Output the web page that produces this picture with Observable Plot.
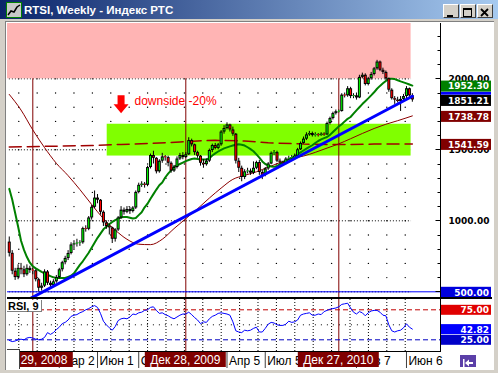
<!DOCTYPE html>
<html><head><meta charset="utf-8">
<script src="https://cdn.jsdelivr.net/npm/d3@7"></script>
<script src="https://cdn.jsdelivr.net/npm/@observablehq/plot@0.6"></script>
<style>
html,body{margin:0;padding:0}
body{width:498px;height:373px;background:#d4d0c8;position:relative;overflow:hidden;font-family:"Liberation Sans",Arial,sans-serif}
.abs{position:absolute}
#titlebar{left:0;top:0;width:498px;height:19px;background:linear-gradient(to right,#0a246a,#a6caf0)}
#title{left:24px;top:2px;color:#fff;font-weight:bold;font-size:11.5px;line-height:16px;white-space:nowrap}
.btn{top:4px;width:14px;height:12px;background:#d4d0c8;border-top:1px solid #fff;border-left:1px solid #fff;border-right:1px solid #404040;border-bottom:1px solid #404040}
#content{left:5px;top:21px;width:488px;height:348px;border-top:1px solid #808080;border-left:1px solid #808080;background:#fff}
#rsilabel{left:7px;top:300px;width:33px;height:11px;background:#fff;border-right:1px solid #808080;border-bottom:1px solid #808080;font-weight:bold;font-size:11px;line-height:12px;padding-left:1px;white-space:nowrap}
#corner{left:7px;top:349px;width:12px;height:19px;background:#fff;border:1px solid #404040;border-bottom:none;border-left:none}
#navbtn{left:460px;top:355px;width:16px;height:12px;background:#5b3fa8}
</style>
</head><body>
<div id="content" class="abs"></div>
<div id="titlebar" class="abs"></div>
<svg class="abs" style="left:6px;top:2px" width="16" height="16"><rect x="0.5" y="0.5" width="15" height="15" fill="#c8c8c8" stroke="#008000"/><polyline points="2,13 5,9 8,10 11,5 14,3" fill="none" stroke="#000" stroke-width="1.5"/></svg>
<div id="title" class="abs">RTSI, Weekly - Индекс РТС</div>
<div class="abs btn" style="left:443px"><svg width="14" height="12"><rect x="3" y="8" width="6" height="2" fill="#000"/></svg></div>
<div class="abs btn" style="left:460px"><svg width="14" height="12"><rect x="2.5" y="1.5" width="8" height="8" fill="none" stroke="#000"/><rect x="2" y="1" width="9" height="2" fill="#000"/></svg></div>
<div class="abs btn" style="left:477px"><svg width="14" height="12"><path d="M3,2 L10,9 M10,2 L3,9" stroke="#000" stroke-width="1.8"/></svg></div>
<script>
// ---------- data ----------
const firstWeek = "2008-11-03"; // weekly candles, one per week from here
const opens = [850,771,645,600,665,655,620,665,
650,648,585,525,540,640,560,545,570,600,
655,705,735,770,830,838,842,845,945,940,
1020,1095,1160,1145,1060,985,960,950,870,935,
1020,1075,1060,1080,1065,1090,1200,1250,1258,1250,
1375,1460,1440,1345,1420,1450,1445,1405,1350,1375,
1435,1460,1445,1465,1565,1535,1480,1455,1405,1395,
1420,1495,1530,1510,1535,1625,1650,1675,1640,1610,
1420,1370,1305,1345,1350,1335,1370,1410,1340,1320,
1365,1400,1475,1480,1420,1410,1400,1435,1440,1445,
1455,1500,1545,1575,1605,1615,1600,1605,1600,1610,
1605,1685,1720,1755,1768,1770,1885,1880,1930,1875,
1880,1865,2010,2025,1960,2000,2030,2070,2118,2060,
2045,2000,1920,1860,1850,1840,1855,1875,1930,1880];
const highs = [886,790,665,690,700,680,690,680,
665,655,595,560,655,650,575,585,615,665,
715,750,790,845,860,870,860,955,965,1030,
1110,1210,1185,1150,1070,1000,975,955,945,1030,
1100,1090,1100,1095,1100,1210,1265,1275,1270,1385,
1470,1490,1445,1430,1475,1460,1455,1415,1390,1450,
1475,1480,1480,1585,1575,1540,1490,1460,1430,1435,
1505,1540,1545,1545,1635,1670,1690,1680,1660,1615,
1440,1385,1360,1370,1365,1415,1420,1425,1355,1375,
1410,1485,1495,1490,1435,1420,1445,1455,1460,1470,
1510,1555,1590,1620,1630,1625,1620,1615,1620,1620,
1695,1730,1765,1780,1780,1895,1900,1945,1940,1895,
1900,2025,2040,2035,2010,2045,2080,2130,2125,2075,
2055,2005,1930,1875,1870,1875,1890,1945,1935,1895];
const lows = [745,620,580,585,620,600,610,630,
620,570,500,505,530,545,530,535,560,590,
640,690,720,760,800,815,820,835,920,930,
1005,1085,1120,1040,960,940,900,840,850,925,
1010,1040,1050,1045,1055,1080,1190,1235,1230,1240,
1365,1400,1330,1335,1405,1420,1380,1335,1340,1365,
1425,1430,1440,1460,1520,1460,1440,1385,1370,1385,
1410,1480,1500,1500,1525,1610,1640,1625,1595,1400,
1340,1275,1290,1330,1320,1325,1360,1320,1290,1310,
1355,1395,1460,1410,1395,1385,1395,1425,1430,1440,
1450,1495,1540,1565,1595,1590,1590,1590,1595,1595,
1600,1675,1710,1745,1760,1765,1865,1870,1860,1860,
1850,1860,2000,1950,1950,1990,2020,2060,2050,2030,
1990,1905,1850,1820,1830,1770,1840,1860,1870,1835];
const closes = [771,645,600,665,655,620,665,650,
648,585,525,540,640,560,545,570,600,655,
705,735,770,830,838,842,845,945,940,1020,
1095,1160,1145,1060,985,960,950,870,935,1020,
1075,1060,1080,1065,1090,1200,1250,1258,1250,1375,
1460,1440,1345,1420,1450,1445,1405,1350,1375,1435,
1460,1445,1465,1565,1535,1480,1455,1405,1395,1420,
1495,1530,1510,1535,1625,1650,1675,1640,1610,1420,
1370,1305,1345,1350,1335,1370,1410,1340,1320,1365,
1400,1475,1480,1420,1410,1400,1435,1440,1445,1455,
1500,1545,1575,1605,1615,1600,1605,1600,1610,1605,
1685,1720,1755,1768,1770,1885,1880,1930,1875,1880,
1865,2010,2025,1960,2000,2030,2070,2118,2060,2045,
2000,1920,1860,1850,1840,1855,1875,1930,1880,1851.21];
const greenMa = [1225,1150,1055,960,860,795,745,705,
680,665,652,640,630,620,610,602,598,597,
597,597,605,613,630,660,690,715,745,775,
810,845,880,910,940,958,975,992,1005,1015,
1025,1027,1027,1022,1016,1020,1040,1060,1095,1120,
1155,1188,1220,1250,1270,1305,1332,1355,1379,1390,
1400,1410,1420,1428,1435,1438,1435,1431,1431,1432,
1440,1460,1475,1488,1500,1510,1517,1524,1530,1536,
1539,1536,1530,1518,1505,1490,1468,1445,1418,1400,
1390,1382,1380,1386,1398,1412,1422,1432,1442,1455,
1468,1482,1495,1508,1520,1532,1548,1562,1573,1582,
1590,1605,1625,1645,1665,1680,1700,1718,1731,1755,
1778,1800,1822,1842,1862,1883,1905,1930,1950,1968,
1985,2000,2001,1998,1990,1982,1975,1968,1960,1952.3];
const rsiValues = [24,22,23,25,26,25,28,29,
28,26,25,26,29,37,34,37,42,46,
52,54,58,64,66,67,70,72,75,77,
80,82,79,69,56,50,45,41,47,57,
60,61,60,63,68,67,70,71,74,75,
79,80,74,69,70,67,65,62,60,63,
66,68,68,71,67,62,58,52,55,54,
60,64,66,69,70,69,68,66,55,40,
38,37,41,40,41,44,46,38,38,44,
51,54,53,50,49,49,51,56,54,55,
58,66,68,69,70,66,66,68,67,72,
74,76,77,78,80,84,85,86,78,71,
68,72,70,65,70,73,74,74,71,66,
65,50,40,38,40,41,45,51.7,46,42.82];
const longMaWeek = [0,4,8,12,16,20,24,28,32,36,40,44,48,52,56,60,64,68,72,76,80,84,88,92,96,100,104,108,112,116,120,124,128,132,137];
const longMaValue = [1890,1780,1640,1515,1405,1318,1220,1115,1015,935,870,835,832,870,945,1015,1085,1160,1230,1292,1320,1345,1378,1410,1438,1456,1482,1512,1542,1578,1615,1650,1680,1705,1738.78];
const dashWeek = [0,28,38,48,58,64,70,80,88,100,112,124,137];
const dashValue = [1520,1530,1538,1545,1555,1562,1567,1562,1550,1540,1537,1540,1541.59];
const trendWeek = [7,137];
const trendValue = [451,1877];
const markerDates = ["2008-12-29","2009-12-28","2010-12-27"];
const markerLabels = ["Дек 29, 2008","Дек 28, 2009","Дек 27, 2010"];
const tickDates = ["2009-03-02","2009-06-01","2009-09-07","2010-04-05","2010-07-05","2011-02-07","2011-06-06"];
const tickLabels = ["Мар 2","Июн 1","Сен 7","Апр 5","Июл 5","Фев 7","Июн 6"];
const priceLabels = [500,1000,1500,2000];
const tagValues = [1952.30,1851.21,1738.78,1541.59,500];
const tagTexts = ["1952.30","1851.21","1738.78","1541.59","500.00"];
const tagColors = ["#008000","#000000","#800000","#800000","#0000dd"];
const trendTagValue = 1895;
const redZone = {start:"2008-10-20", end:"2011-06-17", low:2000, high:2600};
const greenZone = {start:"2009-06-24", end:"2011-06-17", low:1456, high:1680};
const rsiTagValues = [75,42.82,25];
const rsiTagTexts = ["75.00","42.82","25.00"];
const rsiTagColors = ["#e00000","#0000ff","#0000c8"];
const annotation = {date:"2009-08-28", value:1840, text:"downside -20%"};
const arrowAt = {date:"2009-07-27", value:1820};

// ---------- helpers ----------
const D = s => new Date(s + "T00:00:00Z");
const DAY = 864e5;
const weekDate = i => new Date(+D(firstWeek) + i * 7 * DAY);
const candles = closes.map((c, i) => ({date: weekDate(i), open: opens[i], high: highs[i], low: lows[i], close: c,
  top: Math.max(opens[i], c), bot: Math.min(opens[i], c)}));
const upC = candles.filter(d => d.close >= d.open), downC = candles.filter(d => d.close < d.open);
const greenPts = greenMa.map((v, i) => ({date: weekDate(i), v}));
const rsiPts = rsiValues.map((v, i) => ({date: weekDate(i), v}));
const longPts = longMaWeek.map((w, i) => ({date: weekDate(w), v: longMaValue[i]}));
const dashPts = dashWeek.map((w, i) => ({date: weekDate(w), v: dashValue[i]}));
const trendPts = trendWeek.map((w, i) => ({date: weekDate(w), v: trendValue[i]}));
const markers = markerDates.map(D);
const ticksX = tickDates.map(D);
const labelMap = new Map(ticksX.map((d, i) => [+d, tickLabels[i]]));
// dotted grid columns (regular spacing anchored at the last column)
const gridAnchor = D("2011-06-03"), gridStep = 43.78 * DAY;
const gridDates = d3.range(0, 22).map(n => new Date(+gridAnchor - n * gridStep));
const gridRows = d3.range(600, 2001, 100);
const gridPts = d3.cross(gridDates, gridRows);
const dottedStart = D("2008-10-20"), dottedEnd = D("2011-06-18");

const xScale = {type: "utc", domain: [D("2008-12-29"), D("2010-12-27")], range: [25.3, 331.3]};
const NS = "http://www.w3.org/2000/svg";
function el(tag, attrs, parent) {
  const e = document.createElementNS(NS, tag);
  for (const k in attrs) e.setAttribute(k, attrs[k]);
  if (parent) parent.appendChild(e);
  return e;
}
function tagsMark(values, texts, colors, h, dyc) {
  return (index, scales, channels, dims) => {
    const g = el("g", {});
    const x0 = dims.width - dims.marginRight + 1;
    values.forEach((v, i) => {
      const cy = scales.y(v) + dyc;
      el("rect", {x: x0, y: cy - h / 2, width: dims.width - x0 - 1, height: h, fill: colors[i]}, g);
      const t = el("text", {x: dims.width - 3, y: cy + 3.4, "text-anchor": "end", fill: "#fff",
        "font-family": "DejaVu Sans", "font-weight": "bold", "font-size": 9}, g);
      t.textContent = texts[i];
    });
    return g;
  };
}
const arrowSymbol = {draw(ctx) {
  ctx.moveTo(-3.5, -9); ctx.lineTo(3.5, -9); ctx.lineTo(3.5, 0); ctx.lineTo(7.5, 0);
  ctx.lineTo(0, 9); ctx.lineTo(-7.5, 0); ctx.lineTo(-3.5, 0); ctx.closePath();
}};

// ---------- main price panel ----------
const main = Plot.plot({
  width: 485, height: 274, marginLeft: 0, marginRight: 52, marginTop: 0, marginBottom: 0,
  x: {...xScale, axis: null},
  y: {domain: [500, 2000], range: [268.3, 55.3], label: null},
  style: {fontFamily: "Liberation Sans, sans-serif", background: "#fff", overflow: "hidden"},
  marks: [
    Plot.dot(gridPts, {x: d => d[0], y: d => d[1], r: 0.7, fill: "#000"}),
    Plot.ruleY(priceLabels, {x1: () => dottedStart, x2: () => dottedEnd, stroke: "#000", strokeDasharray: "1,2"}),
    Plot.rect([greenZone], {x1: d => D(d.start), x2: d => D(d.end), y1: "low", y2: "high", fill: "#80ff00"}),
    Plot.ruleX(markers, {stroke: "#800000"}),
    Plot.rect([redZone], {x1: d => D(d.start), x2: d => D(d.end), y1: "low", y2: "high", fill: "#ffb4b4"}),
    Plot.ruleY([500], {stroke: "#0000ff"}),
    Plot.line(dashPts, {x: "date", y: "v", stroke: "#a00000", strokeWidth: 1.5, strokeDasharray: "12,6"}),
    Plot.line(longPts, {x: "date", y: "v", stroke: "#8b0000", strokeWidth: 1, curve: "monotone-x"}),
    Plot.line(greenPts, {x: "date", y: "v", stroke: "#008000", strokeWidth: 2}),
    Plot.ruleX(candles, {x: "date", y1: "low", y2: "high", stroke: "#000"}),
    Plot.ruleX(candles, {x: "date", y1: "top", y2: "bot", stroke: "#000", strokeWidth: 3}),
    Plot.ruleX(upC, {x: "date", y1: "top", y2: "bot", stroke: "#00f000", strokeWidth: 1.2, insetTop: 1, insetBottom: 1}),
    Plot.ruleX(downC, {x: "date", y1: "top", y2: "bot", stroke: "#ff0000", strokeWidth: 1.2, insetTop: 1, insetBottom: 1}),
    Plot.line(trendPts, {x: "date", y: "v", stroke: "#0000ff", strokeWidth: 3}),
    Plot.dot([arrowAt], {x: d => D(d.date), y: "value", symbol: arrowSymbol, fill: "#ff0000", r: 5}),
    Plot.text([annotation], {x: d => D(d.date), y: "value", text: "text", fill: "#ff0000", fontSize: 12,
      fontFamily: "Liberation Sans", textAnchor: "start", lineAnchor: "middle"}),
    Plot.axisY({anchor: "right", ticks: priceLabels, tickFormat: d => d.toFixed(2), tickSize: 0, tickPadding: 0,
      dx: 49, textAnchor: "end", fontWeight: "bold", fontSize: 9, fontFamily: "DejaVu Sans", fill: "#000", label: null}),
    (index, scales, channels, dims) => {
      const g = el("g", {});
      const x = dims.width - dims.marginRight + 0.5;
      el("line", {x1: x, x2: x, y1: 0, y2: dims.height, stroke: "#000"}, g);
      for (const v of d3.range(500, 2301, 100)) {
        const y = Math.round(scales.y(v)) + 0.5;
        el("line", {x1: x - (v % 500 === 0 ? 5 : 3), x2: x, y1: y, y2: y, stroke: "#000"}, g);
      }
      const ty = scales.y(trendTagValue);
      el("rect", {x: x + 0.5, y: ty - 1.5, width: dims.width - x - 1.5, height: 3, fill: "#0000ff"}, g);
      return g;
    },
    tagsMark(tagValues, tagTexts, tagColors, 11, 1)
  ]
});

// ---------- RSI panel + date bar ----------
const rsi = Plot.plot({
  width: 485, height: 71, marginLeft: 0, marginRight: 52, marginTop: 2, marginBottom: 17,
  x: {...xScale},
  y: {domain: [25, 75], range: [42.3, 12.3], axis: null},
  style: {fontFamily: "Liberation Sans, sans-serif", background: "#fff", overflow: "hidden"},
  marks: [
    Plot.ruleX(gridDates, {stroke: "#000", strokeDasharray: "1,2"}),
    Plot.ruleY([50], {x1: () => dottedStart, x2: () => dottedEnd, stroke: "#000", strokeDasharray: "1,5"}),
    Plot.ruleX(markers, {stroke: "#800000"}),
    Plot.ruleY([75], {stroke: "#c00000", strokeDasharray: "5,3"}),
    Plot.ruleY([25], {stroke: "#0000c0", strokeDasharray: "5,3"}),
    Plot.line(rsiPts, {x: "date", y: "v", stroke: "#0000ff", strokeWidth: 1}),
    Plot.axisX({ticks: ticksX, tickFormat: () => "", tickSize: 17, stroke: "#404040", label: null}),
    Plot.axisX({ticks: ticksX, tickFormat: d => labelMap.get(+d), tickSize: 0, tickPadding: 0, dy: 4.5, dx: 2,
      textAnchor: "start", fontSize: 12, fontFamily: "Liberation Sans", fill: "#000", label: null}),
    (index, scales, channels, dims) => {
      const g = el("g", {});
      const right = dims.width - dims.marginRight;
      const bottom = dims.height - dims.marginBottom;
      el("rect", {x: 0, y: 0, width: dims.width, height: 2, fill: "#000"}, g);
      el("line", {x1: right + 0.5, x2: right + 0.5, y1: 2, y2: bottom + 1, stroke: "#000"}, g);
      el("line", {x1: 0, x2: right + 1, y1: bottom + 0.5, y2: bottom + 0.5, stroke: "#000"}, g);
      markers.forEach((d, i) => {
        const cx = scales.x(d);
        el("rect", {x: cx - 40.5, y: bottom + 1, width: 81, height: 15, fill: "#800000"}, g);
        const t = el("text", {x: cx, y: bottom + 13, "text-anchor": "middle", fill: "#fff",
          "font-family": "Liberation Sans", "font-size": 12}, g);
        t.textContent = markerLabels[i];
      });
      return g;
    },
    tagsMark(rsiTagValues, rsiTagTexts, rsiTagColors, 10, 0.5)
  ]
});

for (const [svg, top] of [[main, 23], [rsi, 297]]) {
  svg.style.position = "absolute";
  svg.style.left = "7px";
  svg.style.top = top + "px";
  svg.style.overflow = "hidden";
  document.body.appendChild(svg);
}
const lab = document.createElement("div");
lab.id = "rsilabel"; lab.className = "abs"; lab.textContent = "RSI, 9";
document.body.appendChild(lab);
const corner = document.createElement("div");
corner.id = "corner"; corner.className = "abs";
document.body.appendChild(corner);
const nav = document.createElement("div");
nav.id = "navbtn"; nav.className = "abs";
nav.innerHTML = '<svg width="16" height="12"><rect x="3" y="2" width="1.5" height="8" fill="#fff"/><path d="M5,6 L9,2.5 L9,5 L13,5 L13,7 L9,7 L9,9.5 Z" fill="#fff"/></svg>';
document.body.appendChild(nav);
</script>
</body></html>
